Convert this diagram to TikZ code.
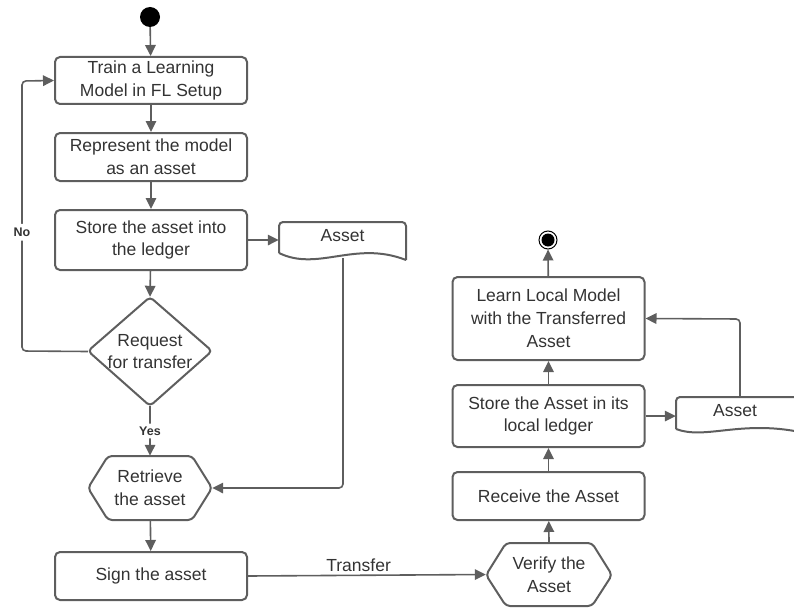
\documentclass[tikz,border=0pt]{standalone}
\usepackage{fontspec}
\setmainfont{Liberation Sans}
\usetikzlibrary{arrows.meta}
\definecolor{ln}{HTML}{5E5E5E}
\definecolor{tx}{HTML}{333333}
\begin{document}
\begin{tikzpicture}[x=1pt,y=-1pt,
  every node/.style={text=tx,font=\fontsize{17.5}{22.8}\selectfont},
  box/.style={draw=ln,line width=2pt,rounded corners=5pt,minimum width=192pt,align=center,inner sep=0pt},
  shp/.style={draw=ln,line width=2pt,rounded corners=4pt},
  ghost/.style={minimum width=#1,align=center,inner sep=0pt},
  arr/.style={draw=ln,line width=1.6pt,-{Triangle[length=11pt,width=10.5pt]},rounded corners=4pt},
  lab/.style={font=\fontsize{12.5}{14}\selectfont\bfseries,text=tx},
]
\useasboundingbox (0,0) rectangle (794,607);
% start
\node[circle,fill=black,minimum size=20pt,inner sep=0pt] (start) at (150,17) {};
% left column
\node[box,minimum height=47pt] (b1) at (151,80.5) {Train a Learning\\Model in FL Setup};
\node[box,minimum height=48pt] (b2) at (151,157) {Represent the model\\as an asset};
\node[box,minimum height=60pt] (b3) at (151,240) {Store the asset into\\the ledger};
% diamond
\draw[shp] (150,297) -- (212,351) -- (150,406) -- (88,351) -- cycle;
\node[ghost=124pt,minimum height=109pt] (dec) at (150,351.5) {Request\\for transfer};
% hexagon retrieve
\draw[shp] (88,488) -- (108,456) -- (192,456) -- (212,488) -- (192,520) -- (108,520) -- cycle;
\node[ghost=124pt,minimum height=64pt] (ret) at (150,488) {Retrieve\\the asset};
\node[box,minimum height=48pt] (sign) at (151,576) {Sign the asset};
% asset doc 1
\draw[shp] (279,253) -- (279,222) -- (406,222) -- (406,260);
\draw[ln,line width=2pt] (279,253) .. controls (318,272) and (355,240) .. (406,260);
\node[ghost=127pt,minimum height=30pt] (doc1) at (342.5,236) {Asset};
\coordinate (doc1b) at (343,258);
% right column
\draw[shp] (486,575) -- (506,543) -- (592,543) -- (612,575) -- (592,606) -- (506,606) -- cycle;
\node[ghost=126pt,minimum height=63pt] (ver) at (549,574.5) {Verify the\\Asset};
\node[box,minimum height=48pt] (rec) at (548.5,496) {Receive the Asset};
\node[box,minimum height=62pt] (loc) at (548.5,416) {Store the Asset in its\\local ledger};
\node[box,minimum height=83pt] (learn) at (548.5,318.5) {Learn Local Model\\with the Transferred\\Asset};
% end
\node[circle,draw=black,line width=1pt,fill=white,minimum size=18pt,inner sep=0pt] (end) at (548,240) {};
\fill[black] (end.center) circle (6.5);
% asset doc 2
\draw[shp] (676,429) -- (676,397) -- (800,397);
\draw[ln,line width=2pt] (676,429) .. controls (705,440) and (740,420) .. (800,432);
\node[ghost=118pt,minimum height=30pt] (doc2) at (735,411) {Asset};
\coordinate (doc2t) at (740,397);
% connectors
\draw[arr] (start) -- (b1);
\draw[arr] (b1) -- (b2);
\draw[arr] (b2) -- (b3);
\draw[arr] (b3) -- (dec.north);
\draw[arr] (b3.east) -- (doc1.west |- b3.east);
\draw[arr] (dec.west) -- (22,351) -- node[lab,fill=white,inner ysep=4pt,pos=0.44] {No} (22,81) -- (b1.west);
\draw[arr] (dec.south) -- node[lab,fill=white,inner ysep=3pt,pos=0.5] {Yes} (ret.north);
\draw[arr] (doc1b) -- (343,488) -- (ret.east);
\draw[arr] (ret) -- (sign);
\draw[arr] (sign.east) -- node[above,text=tx,inner sep=3pt,pos=0.465] {Transfer} (ver.west);
\draw[arr] (ver.north) -- (rec);
\draw[arr] (rec) -- (loc);
\draw[arr] (loc) -- (learn);
\draw[arr] (loc.east) -- (doc2.west |- loc.east);
\draw[arr] (doc2t) -- (740,319) -- (learn.east);
\draw[arr] (learn) -- (end);
\end{tikzpicture}
\end{document}
